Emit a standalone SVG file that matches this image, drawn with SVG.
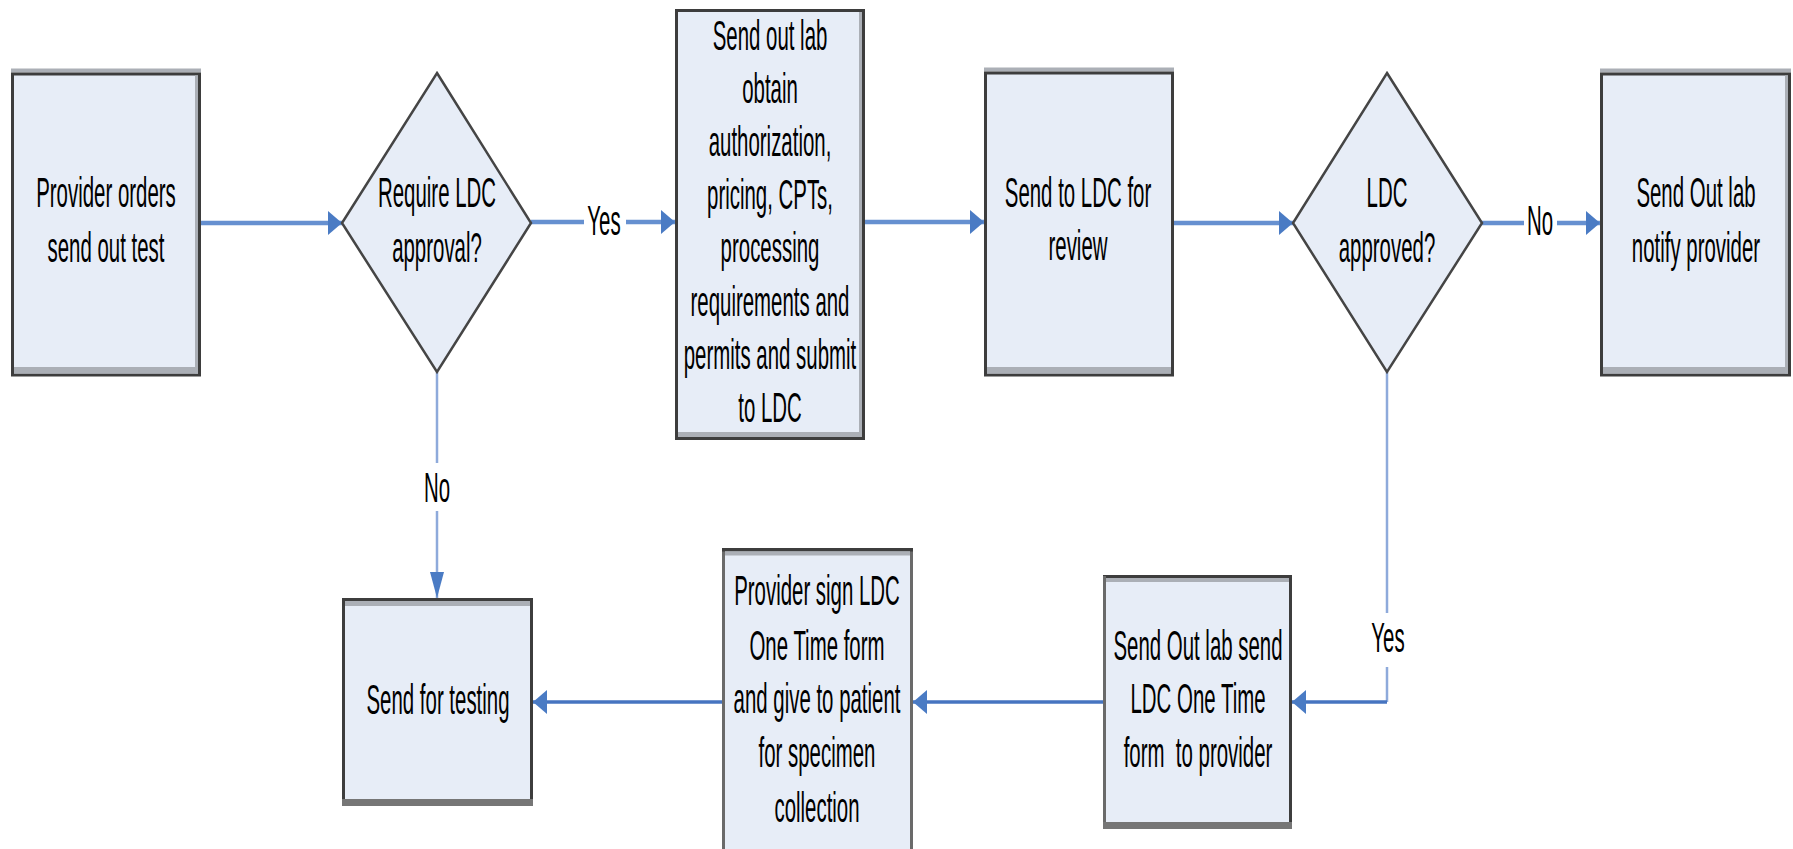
<svg xmlns="http://www.w3.org/2000/svg" width="1793" height="849" viewBox="0 0 1793 849">
<style>
.box{fill:#e7edf7;stroke:#3d3d3d;stroke-width:3}
.dia{fill:#e7edf7;stroke:#454545;stroke-width:2.5}
.sh{fill:#abafb6}
.sd{fill:#767676}
.t{font-family:"Liberation Sans",Arial,sans-serif;font-size:43px;fill:#000;text-anchor:middle}
.c1{fill:none;stroke:#6690d0;stroke-width:4.5}
.c2{fill:none;stroke:#4674c0;stroke-width:3.5}
.c3{fill:none;stroke:#8eaadb;stroke-width:2.5}
.bg{fill:#fff}
</style>
<defs>
<marker id="ah" markerUnits="userSpaceOnUse" viewBox="0 0 14 24" refX="14" refY="12" markerWidth="14" markerHeight="24" orient="auto">
<path d="M0,0 L14,12 L0,24 Z" fill="#4a7bc4"/>
</marker>
<marker id="av" markerUnits="userSpaceOnUse" viewBox="0 0 26 14" refX="26" refY="7" markerWidth="26" markerHeight="14" orient="auto">
<path d="M0,0 L26,7 L0,14 Z" fill="#4a7bc4"/>
</marker>
</defs>

<g id="connectors">
<line class="c1" x1="201" y1="223" x2="342" y2="223" marker-end="url(#ah)"/>
<line class="c1" x1="531" y1="222" x2="675" y2="222" marker-end="url(#ah)"/>
<line class="c1" x1="865" y1="222" x2="984" y2="222" marker-end="url(#ah)"/>
<line class="c1" x1="1174" y1="223" x2="1293" y2="223" marker-end="url(#ah)"/>
<line class="c1" x1="1482" y1="223" x2="1600" y2="223" marker-end="url(#ah)"/>
<line class="c3" x1="437" y1="372" x2="437" y2="598" marker-end="url(#av)"/>
<polyline class="c3" points="1387,372 1387,702"/>
<line class="c2" x1="1387" y1="702" x2="1292" y2="702" marker-end="url(#ah)"/>
<line class="c2" x1="1103" y1="702" x2="913" y2="702" marker-end="url(#ah)"/>
<line class="c2" x1="722" y1="702" x2="533" y2="702" marker-end="url(#ah)"/>
<rect class="bg" x="584" y="200" width="42" height="42"/>
<text class="t" transform="translate(604 0) scale(0.475 1)" x="0" y="235">Yes</text>
<rect class="bg" x="1524" y="200" width="33" height="42"/>
<text class="t" transform="translate(1540 0) scale(0.475 1)" x="0" y="235">No</text>
<rect class="bg" x="420" y="463" width="34" height="48"/>
<text class="t" transform="translate(437 0) scale(0.475 1)" x="0" y="502">No</text>
<rect class="bg" x="1366" y="613" width="44" height="54"/>
<text class="t" transform="translate(1388 0) scale(0.475 1)" x="0" y="652">Yes</text>
</g>

<g id="n1">
<rect class="sh" x="11" y="68.5" width="190" height="4"/>
<rect class="box" x="12.5" y="74" width="187" height="301"/>
<rect class="sh" x="14" y="367" width="184" height="6.5"/>
<rect class="sh" x="195" y="75.5" width="3" height="298"/>
<text class="t" transform="translate(106 0) scale(0.475 1)"><tspan x="0" y="207">Provider orders</tspan><tspan x="0" y="262">send out test</tspan></text>
</g>

<g id="n2">
<polygon class="dia" points="437,73 531,223 437,372 342,223"/>
<text class="t" transform="translate(437 0) scale(0.475 1)"><tspan x="0" y="207">Require LDC</tspan><tspan x="0" y="262">approval?</tspan></text>
</g>

<g id="n3">
<rect class="box" x="676.5" y="10.5" width="187" height="428"/>
<rect class="sh" x="678" y="432" width="184" height="5"/>
<rect class="sh" x="859" y="12" width="3" height="425"/>
<text class="t" transform="translate(770 0) scale(0.475 1)"><tspan x="0" y="50">Send out lab</tspan><tspan x="0" y="103">obtain</tspan><tspan x="0" y="156">authorization,</tspan><tspan x="0" y="209">pricing, CPTs,</tspan><tspan x="0" y="262">processing</tspan><tspan x="0" y="316">requirements and</tspan><tspan x="0" y="369">permits and submit</tspan><tspan x="0" y="422">to LDC</tspan></text>
</g>

<g id="n4">
<rect class="sh" x="984" y="67.5" width="190" height="4"/>
<rect class="box" x="985.5" y="73" width="187" height="302"/>
<rect class="sh" x="987" y="367" width="184" height="6.5"/>
<text class="t" transform="translate(1078 0) scale(0.475 1)"><tspan x="0" y="207">Send to LDC for</tspan><tspan x="0" y="260">review</tspan></text>
</g>

<g id="n5">
<polygon class="dia" points="1387,73 1482,223 1387,372 1293,223"/>
<text class="t" transform="translate(1387 0) scale(0.475 1)"><tspan x="0" y="207">LDC</tspan><tspan x="0" y="262">approved?</tspan></text>
</g>

<g id="n6">
<rect class="sh" x="1600" y="68.5" width="191" height="4"/>
<rect class="box" x="1601.5" y="74" width="188" height="301"/>
<rect class="sh" x="1603" y="367" width="185" height="6.5"/>
<rect class="sh" x="1785" y="75.5" width="3" height="298"/>
<text class="t" transform="translate(1696 0) scale(0.475 1)"><tspan x="0" y="207">Send Out lab</tspan><tspan x="0" y="262">notify provider</tspan></text>
</g>

<g id="n7">
<rect class="box" x="343.5" y="599.5" width="188" height="201"/>
<rect class="sh" x="345" y="601" width="185" height="5"/>
<rect class="sd" x="342" y="799" width="191" height="7"/>
<text class="t" transform="translate(438 0) scale(0.475 1)" x="0" y="714">Send for testing</text>
</g>

<g id="n8">
<rect class="box" x="723.5" y="549.5" width="188" height="303" style="stroke:#6a6a6a"/>
<rect x="722" y="548" width="191" height="3.5" fill="#3d3d3d"/>
<rect class="sh" x="725" y="551.5" width="185" height="4"/>
<text class="t" transform="translate(817 0) scale(0.475 1)"><tspan x="0" y="605">Provider sign LDC</tspan><tspan x="0" y="660">One Time form</tspan><tspan x="0" y="713">and give to patient</tspan><tspan x="0" y="767">for specimen</tspan><tspan x="0" y="822">collection</tspan></text>
</g>

<g id="n9">
<rect class="box" x="1104.5" y="576.5" width="186" height="247"/>
<rect x="1103" y="576" width="3" height="250" fill="#6a6a6a"/>
<rect class="sh" x="1106" y="578" width="183" height="4"/>
<rect class="sd" x="1103" y="822" width="189" height="7"/>
<text class="t" transform="translate(1198 0) scale(0.475 1)"><tspan x="0" y="660">Send Out lab send</tspan><tspan x="0" y="713">LDC One Time</tspan><tspan x="0" y="767" xml:space="preserve">form  to provider</tspan></text>
</g>
</svg>
